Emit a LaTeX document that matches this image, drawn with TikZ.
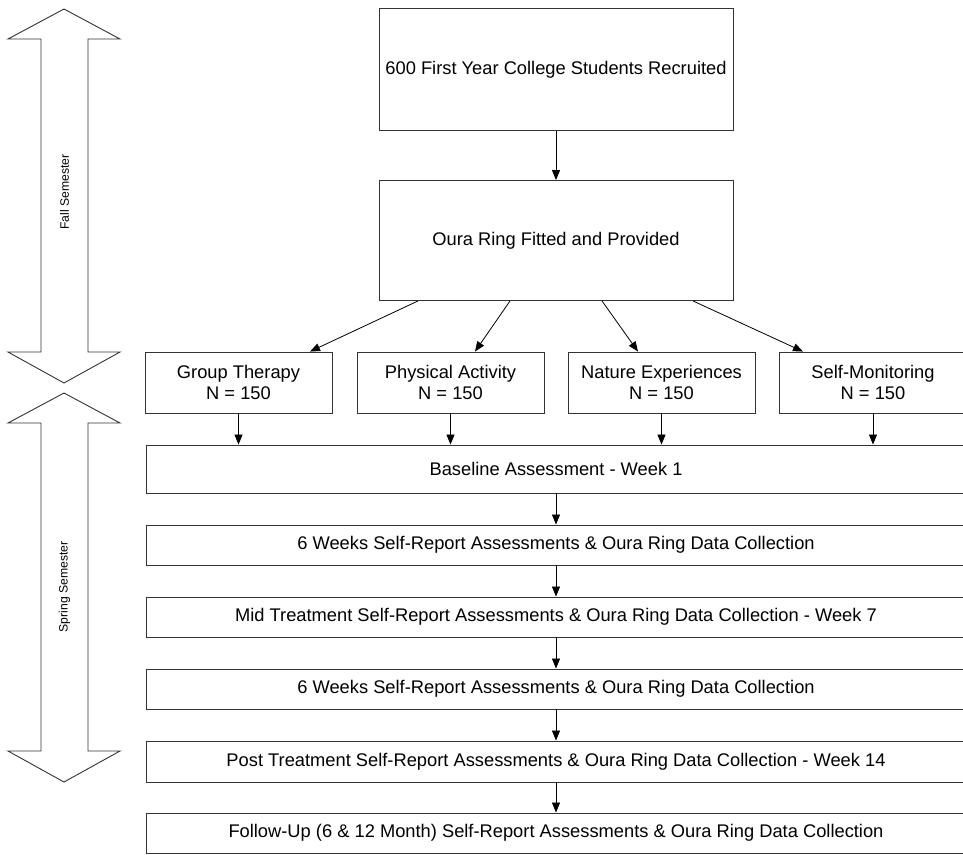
\documentclass[tikz,border=0pt]{standalone}
\usepackage{fontspec}
\setmainfont{Liberation Sans}
\usetikzlibrary{arrows.meta}
\begin{document}
\begin{tikzpicture}[x=1pt,y=-1pt,
  box/.style={draw=black!80,line width=0.9pt,inner sep=0pt,align=center,font=\fontsize{18.3}{21.5}\selectfont},
  wide/.style={box,minimum width=820pt},
  grp/.style={box,minimum width=187pt,minimum height=61pt},
  conn/.style={line width=0.8pt,-{Triangle[length=10pt,width=8pt]}},
  sem/.style={draw=black!80,line width=0.9pt,fill=white},
  semlabel/.style={rotate=90,font=\fontsize{12.2}{14}\selectfont}]
\useasboundingbox (0,0) rectangle (963,854);
\clip (0,0) rectangle (963,854);
% semester arrows
\draw[sem] (64,9) -- (120,39) -- (88,39) -- (88,352) -- (120,352) -- (64,383) -- (8,352) -- (41,352) -- (41,39) -- (8,39) -- cycle;
\draw[sem] (64,393) -- (120,423) -- (88,423) -- (88,751) -- (120,751) -- (64,782) -- (8,751) -- (41,751) -- (41,423) -- (8,423) -- cycle;
\node[semlabel] (fall) at (64.5,192) {Fall Semester};
\node[semlabel] (spring) at (64.5,587) {Spring Semester};
% boxes
\node[box,minimum width=354pt,minimum height=122pt] (rec) at (556,69.5) {600 First Year College Students Recruited};
\node[box,minimum width=354pt,minimum height=120pt] (ring) at (556,240.5) {Oura Ring Fitted and Provided};
\node[grp] (gt) at (238.5,382.5) {Group Therapy\\N = 150};
\node[grp] (pa) at (450.5,382.5) {Physical Activity\\N = 150};
\node[grp] (ne) at (661.5,382.5) {Nature Experiences\\N = 150};
\node[grp] (sm) at (873,382.5) {Self-Monitoring\\N = 150};
\node[wide,minimum height=48pt] (base) at (556,469) {Baseline Assessment - Week 1};
\node[wide,minimum height=40pt] (six1) at (556,545) {6 Weeks Self-Report Assessments \& Oura Ring Data Collection};
\node[wide,minimum height=40pt] (mid) at (556,617) {Mid Treatment Self-Report Assessments \& Oura Ring Data Collection - Week 7};
\node[wide,minimum height=40pt] (six2) at (556,689) {6 Weeks Self-Report Assessments \& Oura Ring Data Collection};
\node[wide,minimum height=41pt] (post) at (556,761.5) {Post Treatment Self-Report Assessments \& Oura Ring Data Collection - Week 14};
\node[wide,minimum height=40pt] (fol) at (556,833) {Follow-Up (6 \& 12 Month) Self-Report Assessments \& Oura Ring Data Collection};
% connectors
\draw[conn] (rec) -- (ring);
\draw[conn] ([xshift=-138pt]ring.south) -- ([xshift=71.5pt]gt.north);
\draw[conn] ([xshift=-46pt]ring.south) -- ([xshift=24.5pt]pa.north);
\draw[conn] ([xshift=46pt]ring.south) -- ([xshift=-23.5pt]ne.north);
\draw[conn] ([xshift=137pt]ring.south) -- ([xshift=-70pt]sm.north);
\draw[conn] (gt) -- (gt |- base.north);
\draw[conn] (pa) -- (pa |- base.north);
\draw[conn] (ne) -- (ne |- base.north);
\draw[conn] (sm) -- (sm |- base.north);
\draw[conn] (base) -- (six1);
\draw[conn] (six1) -- (mid);
\draw[conn] (mid) -- (six2);
\draw[conn] (six2) -- (post);
\draw[conn] (post) -- (fol);
\end{tikzpicture}
\end{document}
